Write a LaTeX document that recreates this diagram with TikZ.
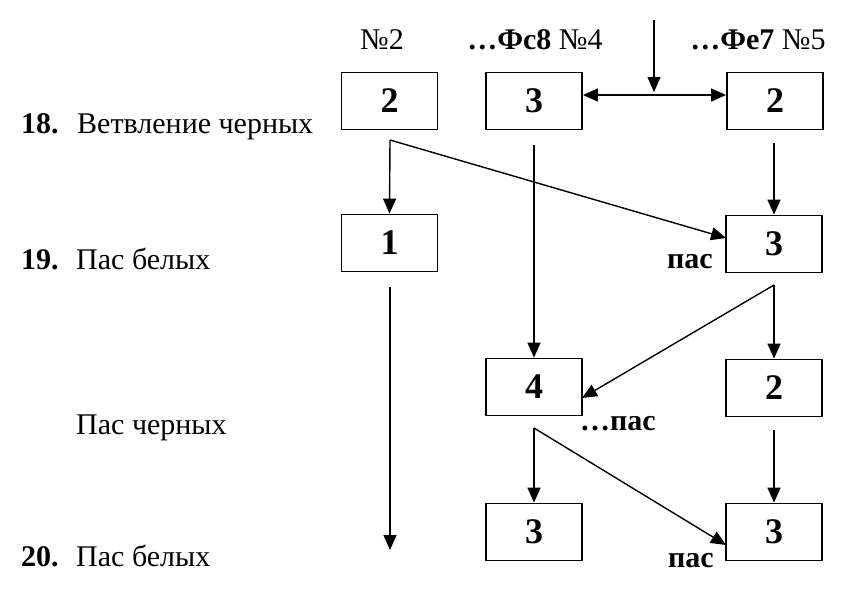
\documentclass[tikz,border=0pt]{standalone}
\usepackage{fontspec}
\setmainfont{Liberation Serif}
\usetikzlibrary{arrows.meta}
\begin{document}
\begin{tikzpicture}[x=1pt,y=-1pt,
  box/.style={draw,line width=1.8pt,minimum width=96pt,minimum height=57pt,inner sep=0pt,font=\fontsize{36}{38}\selectfont\bfseries},
  arr/.style={line width=1.4pt,-{Triangle[length=15pt,width=13pt]}},
  darr/.style={line width=1.4pt,{Triangle[length=15pt,width=13pt]}-{Triangle[length=15pt,width=13pt]}},
  lbl/.style={anchor=base west,inner sep=0pt,font=\fontsize{30}{32}\selectfont},
  top/.style={anchor=base,inner sep=0pt,font=\fontsize{30}{32}\selectfont},
  pas/.style={anchor=base west,inner sep=0pt,font=\fontsize{30}{32}\selectfont\bfseries}]
\useasboundingbox (0,0) rectangle (859,600);
% row labels
\node[lbl] (n18) at (21,133) {\bfseries 18.};
\node[lbl] (r18) at (77,133) {Ветвление черных};
\node[lbl] (n19) at (21,269) {\bfseries 19.};
\node[lbl] (r19) at (76,269) {Пас белых};
\node[lbl] (rb) at (76,434) {Пас черных};
\node[lbl] (n20) at (21,566) {\bfseries 20.};
\node[lbl] (r20) at (76,566) {Пас белых};
% column headings
\node[top] (h1) at (382,49) {№2};
\node[top] (h2) at (535,49) {\textbf{…Фс8} №4};
\node[top] (h3) at (758,49) {\textbf{…Фе7} №5};
% boxes
\node[box] (b1) at (389.5,101) {2};
\node[box] (b2) at (534,101) {3};
\node[box] (b3) at (775,101) {2};
\node[box] (c1) at (389.5,243) {1};
\node[box] (c3) at (774,244) {3};
\node[box] (d2) at (534,387) {4};
\node[box] (d3) at (774,388) {2};
\node[box] (e2) at (534,532) {3};
\node[box] (e3) at (774,532) {3};
% pass labels
\node[pas] (p1) at (667,268) {пас};
\node[pas] (p2) at (580,430) {…пас};
\node[pas] (p3) at (668,567) {пас};
% coordinates
\coordinate (t) at (654,20);
\coordinate (m2) at (654,92);
\coordinate (m) at (654,95);
\coordinate (s1) at (390,140);
\coordinate (s2) at (534,145);
\coordinate (s3) at (774,143);
\coordinate (c3in) at (726,238);
\coordinate (s4) at (774,285);
\coordinate (d2in) at (582,398);
\coordinate (s5) at (390,287);
\coordinate (endw) at (390,550);
\coordinate (s6) at (534,428);
\coordinate (e3in) at (726,545);
\coordinate (s7) at (774,430);
% connectors
\draw[arr] (t) -- (m2);
\draw[darr] (b2.east |- m) -- (b3.west |- m);
\draw[arr] (s1) -- (c1.north);
\draw[arr] (s1) -- (c3in);
\draw[arr] (s2) -- (d2.north);
\draw[arr] (s3) -- (c3.north);
\draw[arr] (s4) -- (d3.north);
\draw[arr] (s4) -- (d2in);
\draw[arr] (s5) -- (endw);
\draw[arr] (s6) -- (e2.north);
\draw[arr] (s6) -- (e3in);
\draw[arr] (s7) -- (e3.north);
\end{tikzpicture}
\end{document}
